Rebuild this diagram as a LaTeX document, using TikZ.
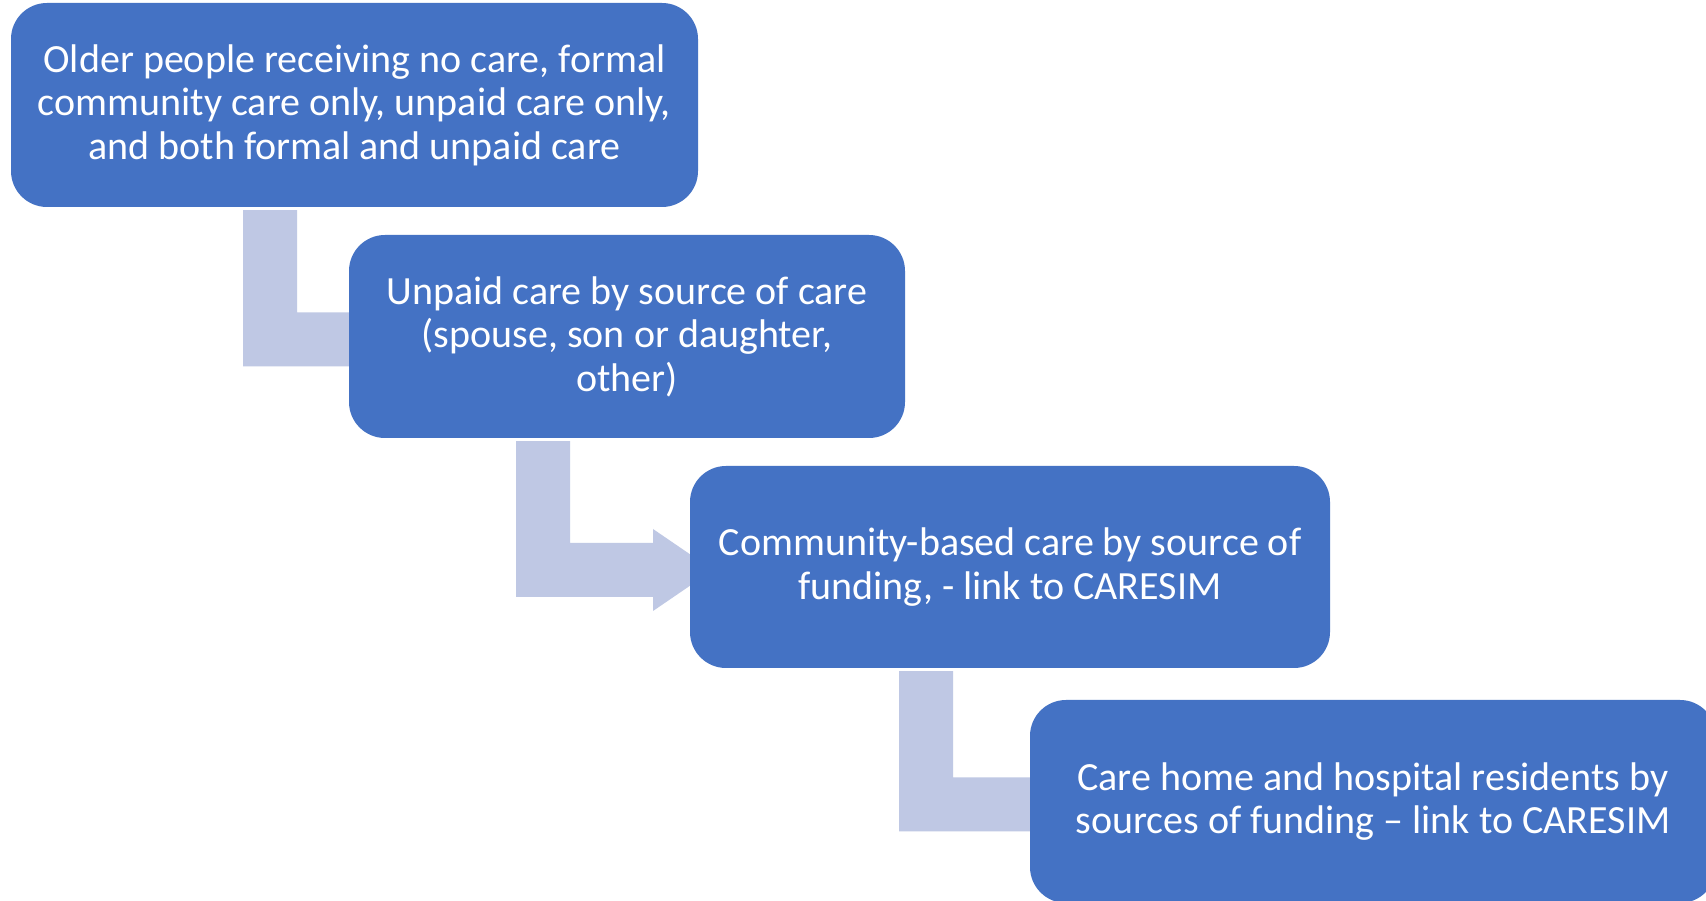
\documentclass[tikz,border=0pt]{standalone}
\usepackage{fontspec}
\setmainfont{Carlito}
\usetikzlibrary{calc}
\pgfdeclarelayer{paper}
\pgfdeclarelayer{background}
\pgfsetlayers{paper,background,main}
\definecolor{boxblue}{RGB}{68,114,196}
\definecolor{bendblue}{RGB}{191,200,228}
\tikzset{
  carebox/.style={fill=boxblue, draw=none, rounded corners=36pt, text=white,
    align=center, inner sep=0pt,
    font=\fontsize{40}{43.5}\selectfont},
  bendfill/.style={fill=bendblue, draw=none}
}
% bent arrow from the bottom of #1 into the left side of #2;
% #3 = left edge of the vertical bar, #4 = base of the arrow head
\newcommand\carearrow[4]{%
  \begin{pgfonlayer}{background}
  \fill[bendfill] let \p1=(#1.south), \p2=(#2.west) in
    (#3pt, \y1-3pt) -- (#3pt+54pt, \y1-3pt)
    -- (#3pt+54pt, \y2+24pt) -- (#4pt, \y2+24pt)
    -- (#4pt, \y2+38pt) -- (#4pt+60pt, \y2-3pt)
    -- (#4pt, \y2-44pt) -- (#4pt, \y2-30pt)
    -- (#3pt, \y2-30pt) -- cycle;
  \end{pgfonlayer}}
\begin{document}
\begin{tikzpicture}[x=1pt, y=1pt]
  \useasboundingbox (0,0) rectangle (1706,900);
  \begin{pgfonlayer}{paper}
    \fill[white] (0,0) rectangle (1706,900);
  \end{pgfonlayer}
  \clip (0,0) rectangle (1706,900);

  \node[carebox, minimum width=687pt, minimum height=204pt] (b1) at (354.5,795)
    {Older people receiving no care, formal\\community care only, unpaid care only,\\and both formal and unpaid care};
  \node[carebox, minimum width=556pt, minimum height=203pt] (b2) at (627,563.5)
    {Unpaid care by source of care\\(spouse, son or daughter,\\other)};
  \node[carebox, minimum width=640pt, minimum height=202pt] (b3) at (1010,333)
    {Community-based care by source of\\funding, - link to CARESIM};
  \node[carebox, minimum width=686pt, minimum height=203pt] (b4) at (1373,98.5)
    {Care home and hospital residents by\\sources of funding -- link to CARESIM};

  \carearrow{b1}{b2}{243}{360}
  \carearrow{b2}{b3}{516}{653}
  \carearrow{b3}{b4}{899}{1045}
\end{tikzpicture}
\end{document}
